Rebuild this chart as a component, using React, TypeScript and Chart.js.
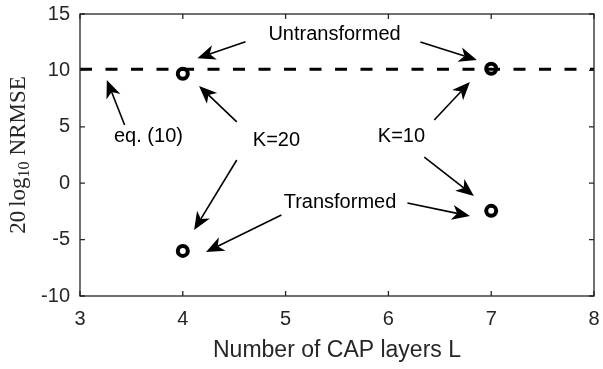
import React, { useEffect, useRef } from "react";
import { Chart, registerables } from "chart.js";

Chart.register(...registerables);

// ---- data ----
const xTicks = [3, 4, 5, 6, 7, 8];
const yTicks = [-10, -5, 0, 5, 10, 15];
const layersL = [4, 7];
const untransformedDb = [9.7, 10.15];
const transformedDb = [-6.0, -2.45];
const eq10Db = 10.1;
const eq10Span = [3, 8];

const xTitle = "Number of CAP layers L";

// annotation texts (data coordinates)
const textLabels = ["Untransformed", "eq. (10)", "K=20", "K=10", "Transformed"];
const textX = [5.476, 3.666, 4.911, 6.127, 5.529];
const textY = [13.14, 4.1, 3.83, 4.1, -1.67];

// annotation arrows (data coordinates, tail -> head)
const arrowFromX = [4.61, 6.311, 3.434, 4.525, 4.525, 4.959, 6.446, 6.349, 6.185];
const arrowFromY = [12.54, 12.52, 5.16, 5.43, 2.06, -2.82, 5.6, 2.32, -1.76];
const arrowToX = [4.142, 6.861, 3.261, 4.158, 4.11, 4.226, 6.793, 6.832, 6.793];
const arrowToY = [11.07, 10.92, 9.15, 8.62, -4.15, -6.1, 8.97, -1.13, -2.91];

const SANS = "'Liberation Sans', Arial, Helvetica, sans-serif";
const SERIF = "'Liberation Serif', 'Times New Roman', serif";

const decorPlugin = {
  id: "decor",
  afterDatasetsDraw(chart: any) {
    const { ctx, chartArea, scales } = chart;
    const xs = scales.x;
    const ys = scales.y;
    const { left, right, top, bottom } = chartArea;
    ctx.save();

    // box
    ctx.strokeStyle = "#262626";
    ctx.lineWidth = 1.3;
    ctx.strokeRect(left, top, right - left, bottom - top);

    // inward ticks on all four sides
    const tl = 5;
    ctx.beginPath();
    for (const v of xTicks) {
      const px = xs.getPixelForValue(v);
      ctx.moveTo(px, bottom);
      ctx.lineTo(px, bottom - tl);
      ctx.moveTo(px, top);
      ctx.lineTo(px, top + tl);
    }
    for (const v of yTicks) {
      const py = ys.getPixelForValue(v);
      ctx.moveTo(left, py);
      ctx.lineTo(left + tl, py);
      ctx.moveTo(right, py);
      ctx.lineTo(right - tl, py);
    }
    ctx.stroke();

    // arrows
    ctx.strokeStyle = "#000";
    ctx.fillStyle = "#000";
    ctx.lineWidth = 1.6;
    const L = 18;
    const W = 7.5;
    const notch = 5;
    for (let i = 0; i < arrowFromX.length; i++) {
      const x1 = xs.getPixelForValue(arrowFromX[i]);
      const y1 = ys.getPixelForValue(arrowFromY[i]);
      const x2 = xs.getPixelForValue(arrowToX[i]);
      const y2 = ys.getPixelForValue(arrowToY[i]);
      const len = Math.hypot(x2 - x1, y2 - y1);
      const dx = (x2 - x1) / len;
      const dy = (y2 - y1) / len;
      const px = -dy;
      const py = dx;
      ctx.beginPath();
      ctx.moveTo(x1, y1);
      ctx.lineTo(x2 - (L - notch) * dx, y2 - (L - notch) * dy);
      ctx.stroke();
      ctx.beginPath();
      ctx.moveTo(x2, y2);
      ctx.lineTo(x2 - L * dx + W * px, y2 - L * dy + W * py);
      ctx.lineTo(x2 - (L - notch) * dx, y2 - (L - notch) * dy);
      ctx.lineTo(x2 - L * dx - W * px, y2 - L * dy - W * py);
      ctx.closePath();
      ctx.fill();
    }

    // texts
    ctx.font = `20px ${SANS}`;
    ctx.textAlign = "center";
    ctx.textBaseline = "middle";
    ctx.fillStyle = "#000";
    for (let i = 0; i < textLabels.length; i++) {
      ctx.fillText(textLabels[i], xs.getPixelForValue(textX[i]), ys.getPixelForValue(textY[i]));
    }

    // y-axis label: 20 log_10 NRMSE (rotated)
    const cy = (top + bottom) / 2;
    const cx = 18.5;
    ctx.translate(cx, cy);
    ctx.rotate(-Math.PI / 2);
    ctx.fillStyle = "#262626";
    ctx.textAlign = "left";
    ctx.textBaseline = "middle";
    const big = `23px ${SERIF}`;
    const small = `16px ${SERIF}`;
    const parts = [
      { t: "20", f: big, dy: 0, gap: 4 },
      { t: "log", f: big, dy: 0, gap: 0 },
      { t: "10", f: small, dy: 6, gap: 6 },
      { t: "NRMSE", f: big, dy: 0, gap: 0 },
    ];
    let total = 0;
    for (const p of parts) {
      ctx.font = p.f;
      total += ctx.measureText(p.t).width + p.gap;
    }
    let pos = -total / 2;
    for (const p of parts) {
      ctx.font = p.f;
      ctx.fillText(p.t, pos, p.dy);
      pos += ctx.measureText(p.t).width + p.gap;
    }
    ctx.restore();
  },
};

export default function App() {
  const ref = useRef<HTMLCanvasElement | null>(null);

  useEffect(() => {
    if (!ref.current) return;
    Chart.defaults.font.family = SANS;
    const chart = new Chart(ref.current, {
      type: "scatter",
      data: {
        datasets: [
          {
            label: "eq. (10)",
            data: eq10Span.map((x) => ({ x, y: eq10Db })),
            showLine: true,
            borderColor: "#000",
            borderWidth: 3,
            borderDash: [12, 13.5],
            pointRadius: 0,
          },
          {
            label: "Untransformed",
            data: layersL.map((x, i) => ({ x, y: untransformedDb[i] })),
            pointStyle: "circle",
            pointRadius: 5,
            pointBorderWidth: 4,
            pointBorderColor: "#000",
            pointBackgroundColor: "rgba(0,0,0,0)",
          },
          {
            label: "Transformed",
            data: layersL.map((x, i) => ({ x, y: transformedDb[i] })),
            pointStyle: "circle",
            pointRadius: 5,
            pointBorderWidth: 4,
            pointBorderColor: "#000",
            pointBackgroundColor: "rgba(0,0,0,0)",
          },
        ],
      },
      options: {
        responsive: false,
        devicePixelRatio: 1,
        animation: false,
        layout: { padding: { left: 0, top: 14, right: 5, bottom: 0 } },
        plugins: {
          legend: { display: false },
          tooltip: { enabled: false },
        },
        scales: {
          x: {
            type: "linear",
            min: xTicks[0],
            max: xTicks[xTicks.length - 1],
            afterBuildTicks: (s: any) => {
              s.ticks = xTicks.map((v) => ({ value: v }));
            },
            ticks: { font: { size: 20 }, color: "#262626", padding: 11, maxRotation: 0 },
            grid: { display: false, drawTicks: false },
            border: { display: false },
            title: {
              display: true,
              text: xTitle,
              font: { size: 23 },
              color: "#262626",
              padding: { top: 0, bottom: 5 },
            },
            afterFit: (s: any) => {
              s.height = 73;
              s.paddingLeft = 0;
              s.paddingRight = 0;
            },
          },
          y: {
            type: "linear",
            min: yTicks[0],
            max: yTicks[yTicks.length - 1],
            afterBuildTicks: (s: any) => {
              s.ticks = yTicks.map((v) => ({ value: v }));
            },
            ticks: { font: { size: 20 }, color: "#262626", padding: 10 },
            grid: { display: false, drawTicks: false },
            border: { display: false },
            afterFit: (s: any) => {
              s.width = 80;
              s.paddingTop = 0;
              s.paddingBottom = 0;
            },
          },
        },
      },
      plugins: [decorPlugin],
    } as any);
    return () => chart.destroy();
  }, []);

  return (
    <div style={{ position: "absolute", left: 0, top: 0, width: 603, height: 369, background: "#fff" }}>
      <canvas ref={ref} width={603} height={369} />
    </div>
  );
}
